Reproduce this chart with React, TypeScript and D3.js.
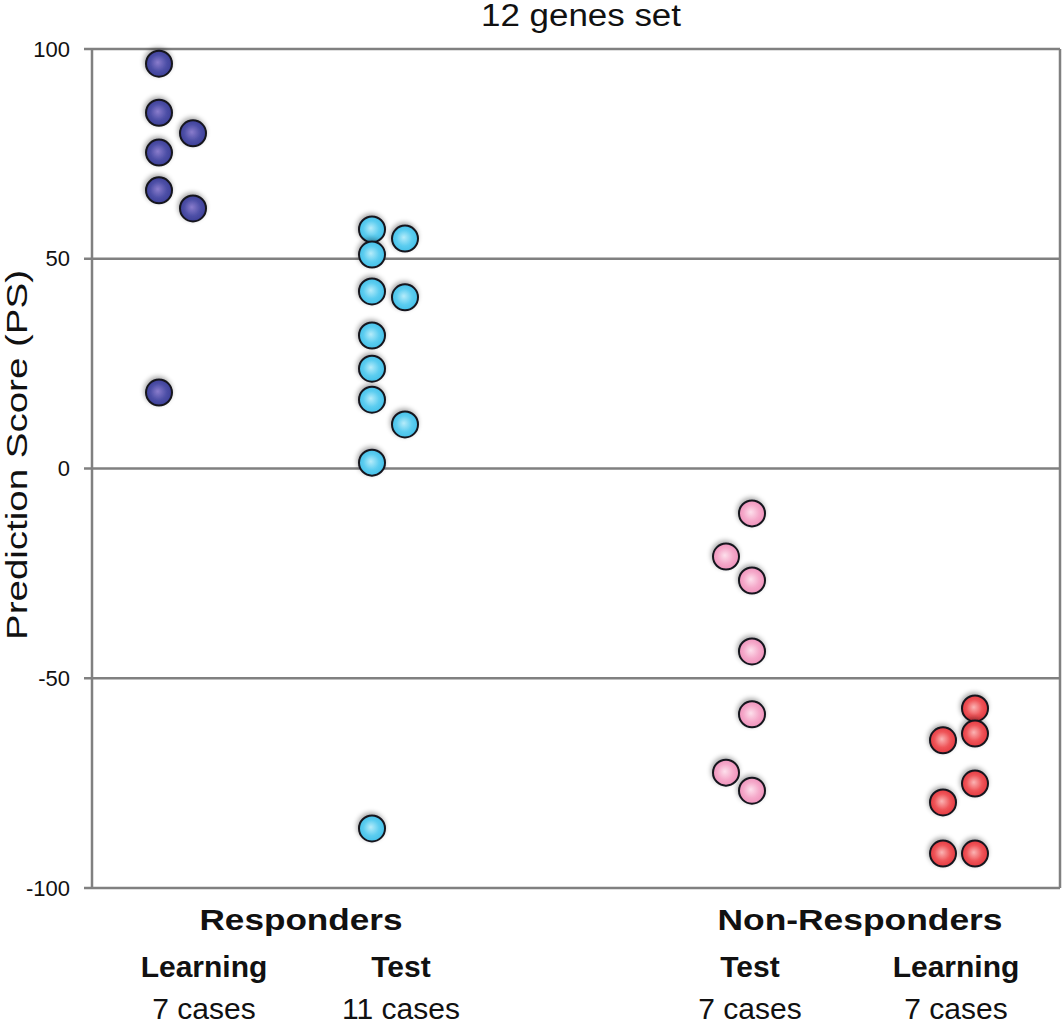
import * as d3 from "d3";

// prediction scores, one array per group
const respLearning = [96.5, 84.8, 79.9, 75.3, 66.3, 62.0, 18.1];
const respLearningLane = [0, 0, 1, 0, 0, 1, 0];
const respTest = [57.0, 54.8, 51.0, 42.2, 40.8, 31.7, 23.8, 16.4, 10.5, 1.4, -85.8];
const respTestLane = [0, 1, 0, 0, 1, 0, 0, 0, 1, 0, 0];
const nonRespTest = [-10.7, -21.0, -26.7, -43.6, -58.6, -72.5, -76.8];
const nonRespTestLane = [0, -1, 0, 0, 0, -1, 0];
const nonRespLearning = [-57.2, -63.2, -64.8, -75.1, -79.6, -91.8, -91.8];
const nonRespLearningLane = [1, 1, 0, 1, 0, 0, 1];

const groups = ["respLearning", "respTest", "nonRespTest", "nonRespLearning"];
const subLabels = ["Learning", "Test", "Test", "Learning"];
const caseLabels = ["7 cases", "11 cases", "7 cases", "7 cases"];
const classLabels = ["Responders", "Non-Responders"];
const yTicks = [100, 50, 0, -50, -100];

const W = 1063;
const H = 1021;
const FONT = "Arial, 'Liberation Sans', Helvetica, sans-serif";

const palette: Record<string, { edge: string; mid: string; light: string }> = {
  respLearning: { edge: "#373a93", mid: "#4f51a8", light: "#8a7ccc" },
  respTest: { edge: "#3fbde6", mid: "#5ccdf0", light: "#b6ecfa" },
  nonRespTest: { edge: "#ee8db8", mid: "#f5a9ca", light: "#fde0ec" },
  nonRespLearning: { edge: "#e2333b", mid: "#ef5559", light: "#fbb4b4" },
};

export default function App() {
  const left = 92;
  const right = 1060;
  const y = d3.scaleLinear().domain([-100, 100]).range([888, 49]);

  // main lane x per group, plus the gap to the side lane
  const colX = d3.scaleOrdinal<string, number>().domain(groups).range([159, 372, 752, 943]);
  const laneGap = d3.scaleOrdinal<string, number>().domain(groups).range([34, 33, 26, 32]);
  const labelX = d3.scaleOrdinal<string, number>().domain(groups).range([204, 401, 750, 956]);
  const classX = d3.scaleOrdinal<string, number>().domain(classLabels).range([301, 860]);

  const series = [
    { key: "respLearning", values: respLearning, lanes: respLearningLane },
    { key: "respTest", values: respTest, lanes: respTestLane },
    { key: "nonRespTest", values: nonRespTest, lanes: nonRespTestLane },
    { key: "nonRespLearning", values: nonRespLearning, lanes: nonRespLearningLane },
  ];

  const r = 13;
  const grid = "#808080";

  return (
    <svg
      width={W}
      height={H}
      style={{ position: "absolute", left: 0, top: 0, background: "#fff" }}
      fontFamily={FONT}
    >
      <defs>
        {groups.map((g) => (
          <radialGradient key={g} id={`grad-${g}`} cx="0.5" cy="0.5" r="0.55" fx="0.45" fy="0.45">
            <stop offset="0%" stopColor={palette[g].light} />
            <stop offset="55%" stopColor={palette[g].mid} />
            <stop offset="100%" stopColor={palette[g].edge} />
          </radialGradient>
        ))}
        <filter id="shadow" x="-50%" y="-50%" width="200%" height="200%">
          <feGaussianBlur in="SourceAlpha" stdDeviation="2.5" />
          <feOffset dx="-1" dy="-2" result="blur" />
          <feComponentTransfer>
            <feFuncA type="linear" slope="0.35" />
          </feComponentTransfer>
          <feMerge>
            <feMergeNode />
            <feMergeNode in="SourceGraphic" />
          </feMerge>
        </filter>
      </defs>

      <text x={581} y={26} textAnchor="middle" fontSize={31} textLength={200} lengthAdjust="spacingAndGlyphs" fill="#111">
        12 genes set
      </text>

      {/* grid + frame */}
      {yTicks.map((t) => (
        <g key={t}>
          <line x1={84} x2={right} y1={y(t)} y2={y(t)} stroke={grid} strokeWidth={2.5} />
          <text x={70} y={y(t)} dy="0.35em" textAnchor="end" fontSize={22} fill="#111">
            {t}
          </text>
        </g>
      ))}
      <line x1={left} x2={left} y1={y(100)} y2={y(-100)} stroke={grid} strokeWidth={2.5} />
      <line x1={right} x2={right} y1={y(100)} y2={y(-100)} stroke={grid} strokeWidth={2.5} />

      <text
        transform={`translate(27,${455}) rotate(-90)`}
        textAnchor="middle"
        fontSize={30}
        textLength={370}
        lengthAdjust="spacingAndGlyphs"
        fill="#111"
      >
        Prediction Score (PS)
      </text>

      {/* points */}
      {series.map((s) =>
        s.values.map((v, i) => (
          <circle
            key={`${s.key}-${i}`}
            cx={colX(s.key) + s.lanes[i] * laneGap(s.key)}
            cy={y(v)}
            r={r}
            fill={`url(#grad-${s.key})`}
            stroke="#15151f"
            strokeWidth={2}
            filter="url(#shadow)"
          />
        ))
      )}

      {/* category labels */}
      {classLabels.map((c, i) => (
        <text
          key={c}
          x={classX(c)}
          y={930}
          textAnchor="middle"
          fontSize={30}
          fontWeight="bold"
          textLength={i === 0 ? 203 : 285}
          lengthAdjust="spacingAndGlyphs"
          fill="#111"
        >
          {c}
        </text>
      ))}
      {groups.map((g, i) => (
        <g key={g}>
          <text x={labelX(g)} y={977} textAnchor="middle" fontSize={30} fontWeight="bold" fill="#111">
            {subLabels[i]}
          </text>
          <text x={labelX(g)} y={1019} textAnchor="middle" fontSize={30} fill="#111">
            {caseLabels[i]}
          </text>
        </g>
      ))}
    </svg>
  );
}
